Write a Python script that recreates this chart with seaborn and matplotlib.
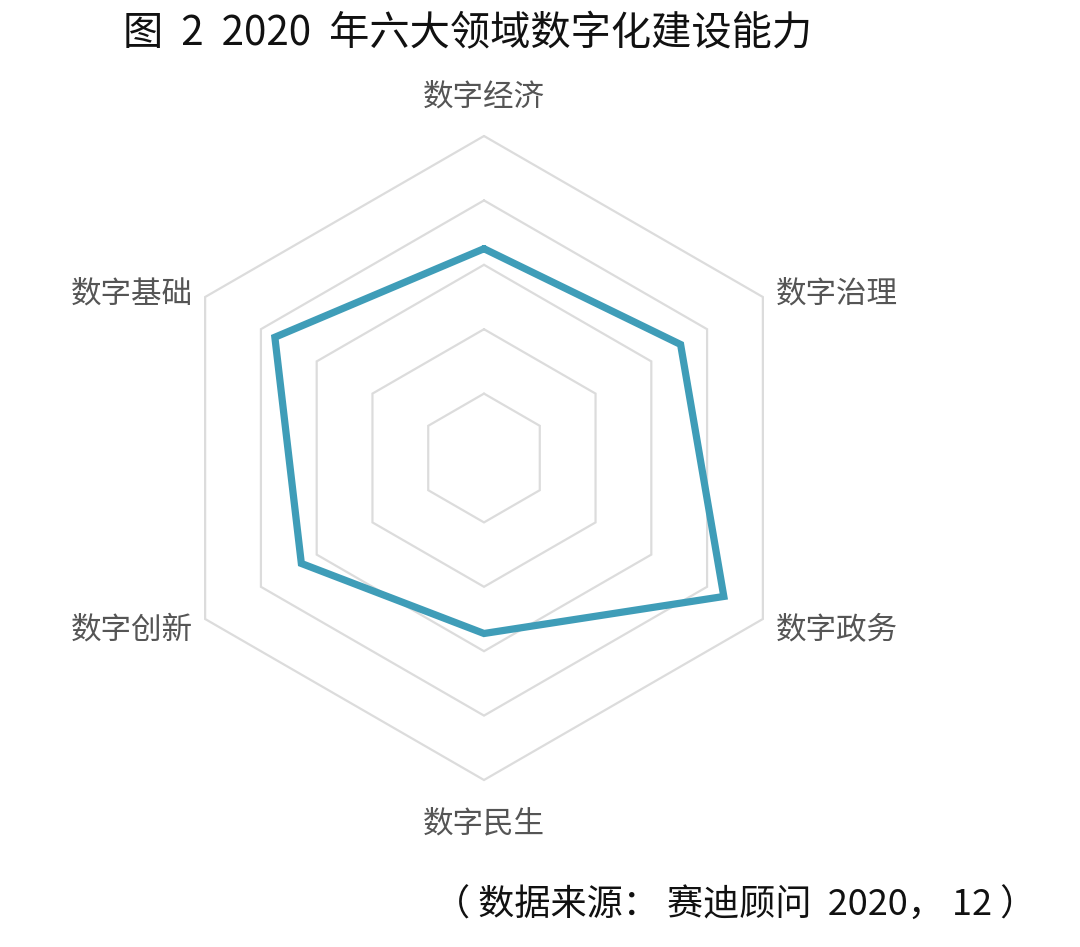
import numpy as np
import pandas as pd
import matplotlib
matplotlib.use('Agg')
import matplotlib.pyplot as plt
import seaborn as sns

# data (scale 0-100, grid every 20)
domains = ['数字经济', '数字治理', '数字政务', '数字民生', '数字创新', '数字基础']
scores = [65, 70.5, 86, 54.5, 65.5, 75]
grid_levels = [20, 40, 60, 80, 100]

title = '图  2  2020  年六大领域数字化建设能力'
source = '（ 数据来源： 赛迪顾问  2020， 12 ）'

sns.set_theme(style='white')
plt.rcParams['font.family'] = ['Noto Sans CJK SC', 'DejaVu Sans']

n = len(domains)
angles = np.arange(n) * 2 * np.pi / n  # clockwise from top


def to_xy(r, a):
    return r * np.sin(a), r * np.cos(a)


fig = plt.figure(figsize=(10.8, 9.47), dpi=100)
# axes placed so that the centre sits at (484, 458) px and r=100 -> 322 px
half = 424
ax = fig.add_axes([(484 - half) / 1080, (947 - 458 - half) / 947,
                   2 * half / 1080, 2 * half / 947])
lim = half / 3.22
ax.set_xlim(-lim, lim)
ax.set_ylim(-lim, lim)
ax.axis('off')

# hexagon grid
for lv in grid_levels:
    a = np.append(angles, angles[0])
    gx, gy = to_xy(lv, a)
    ax.plot(gx, gy, color='#dcdcdc', lw=1.6, zorder=1, solid_joinstyle='miter')

# data polygon
a = np.append(angles, angles[0])
r = np.append(scores, scores[0])
px, py = to_xy(r, a)
df = pd.DataFrame({'x': px, 'y': py})
sns.lineplot(data=df, x='x', y='y', sort=False, estimator=None,
             color='#3f9db8', lw=5.2, ax=ax, zorder=3,
             solid_joinstyle='miter', legend=False)

# axis labels
for name, ang in zip(domains, angles):
    s, c = np.sin(ang), np.cos(ang)
    if abs(s) < 1e-6:
        lx, ly = to_xy(112 if c > 0 else 113.5, ang)
        ha = 'center'
    else:
        lx, ly = to_xy(104, ang)
        lx += 0.5 if s > 0 else -0.5
        ly += -1.0 if c > 0 else -1.5
        ha = 'left' if s > 0 else 'right'
    ax.text(lx, ly, name, ha=ha, va='center', fontsize=22, color='#555555')

fig.text(468 / 1080, 1 - 34 / 947, title, ha='center', va='center',
         fontsize=29, color='#111111', fontweight='light')
fig.text(1036 / 1080, 1 - 906 / 947, source, ha='right', va='center',
         fontsize=26, color='#111111', fontweight='light')

fig.savefig('out.png', dpi=100, facecolor='white')
